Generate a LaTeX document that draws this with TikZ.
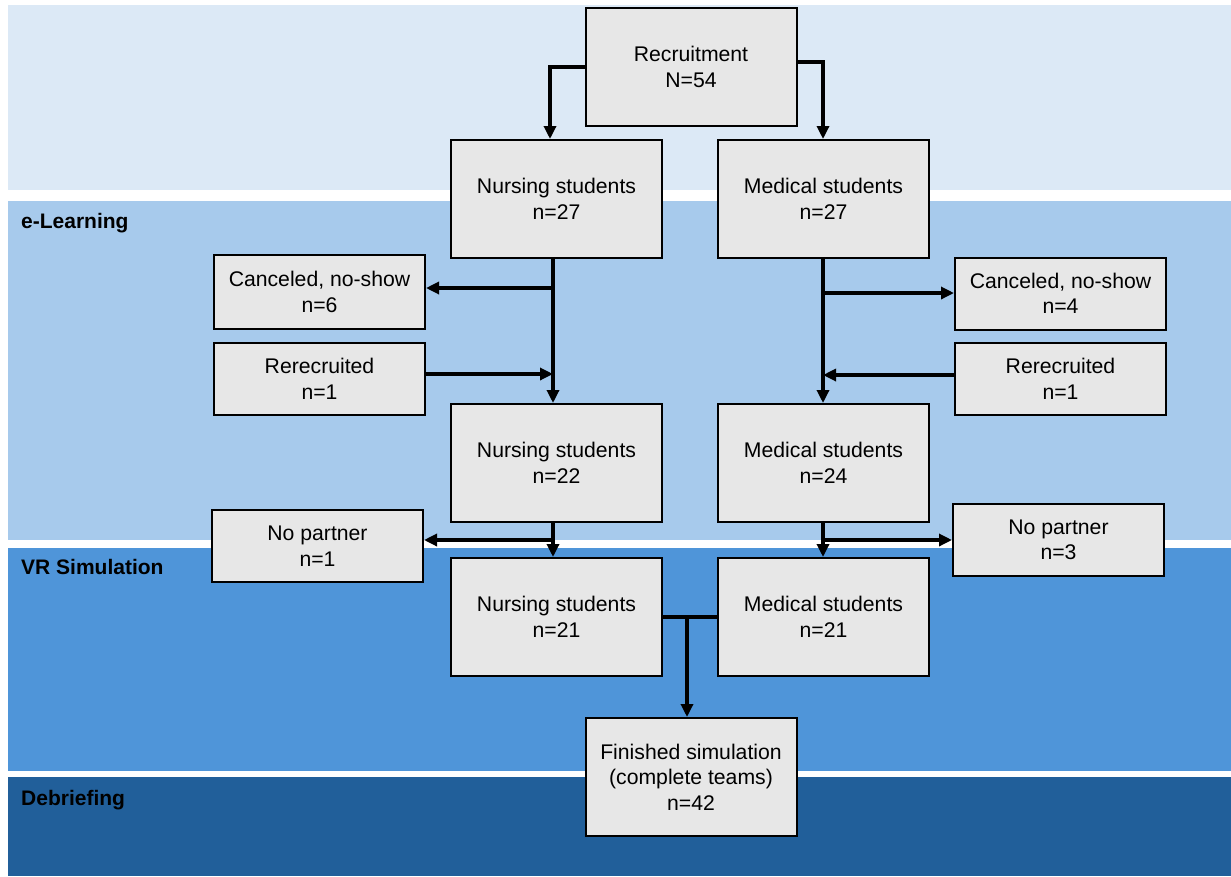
\documentclass[tikz,border=0pt]{standalone}
\usepackage{fontspec}
\setmainfont{Liberation Sans}
\usetikzlibrary{arrows.meta}
\definecolor{bandA}{HTML}{DCE9F6}
\definecolor{bandB}{HTML}{A7CAEC}
\definecolor{bandC}{HTML}{4F95D9}
\definecolor{bandD}{HTML}{215F9A}
\definecolor{boxfill}{HTML}{E7E7E7}
\tikzset{
  x=1pt, y=-1pt,
  stepbox/.style={draw=black, line width=2pt, fill=boxfill, minimum width=211pt, align=center,
    font=\fontsize{21.2}{25.5}\selectfont, inner sep=0pt},
  bigbox/.style={stepbox, minimum height=118pt},
  smallbox/.style={stepbox, minimum height=72pt},
  bandlabel/.style={anchor=north west, font=\fontsize{21}{24}\selectfont\bfseries, inner sep=0pt},
  conn/.style={line width=3.2pt, draw=black},
  arr/.style={conn, -{Triangle[width=12pt,length=13pt]}},
}
\begin{document}
\begin{tikzpicture}
\useasboundingbox (0,0) rectangle (1231,876);
\fill[white] (0,0) rectangle (1231,876);
% bands
\fill[bandA] (8,5) rectangle (1231,190);
\fill[bandB] (8,201) rectangle (1231,540);
\fill[bandC] (8,548) rectangle (1231,771);
\fill[bandD] (8,777) rectangle (1231,876);
\node[bandlabel] (l1) at (21,213) {e-Learning};
\node[bandlabel] (l2) at (21,559) {VR Simulation};
\node[bandlabel] (l3) at (21,790) {Debriefing};
% boxes
\node[bigbox] (rec) at (691,67) {Recruitment\\N=54};
\node[bigbox] (n27) at (556.5,199) {Nursing students\\n=27};
\node[bigbox] (m27) at (823.5,199) {Medical students\\n=27};
\node[smallbox, minimum height=74pt] (cl) at (319.5,292) {Canceled, no-show\\n=6};
\node[smallbox] (rl) at (319.5,379) {Rerecruited\\n=1};
\node[smallbox] (cr) at (1060.5,293.5) {Canceled, no-show\\n=4};
\node[smallbox] (rr) at (1060.5,379) {Rerecruited\\n=1};
\node[bigbox] (n22) at (556.5,463) {Nursing students\\n=22};
\node[bigbox] (m24) at (823.5,463) {Medical students\\n=24};
\node[smallbox] (pl) at (317.5,546) {No partner\\n=1};
\node[smallbox] (pr) at (1058.5,540) {No partner\\n=3};
\node[bigbox] (n21) at (556.5,617) {Nursing students\\n=21};
\node[bigbox] (m21) at (823.5,617) {Medical students\\n=21};
\node[bigbox] (fin) at (691,777) {Finished simulation\\(complete teams)\\n=42};
% junction coordinates
\coordinate (jl) at (550,67);
\coordinate (jr) at (823,62);
\coordinate (ja) at (553,288);
\coordinate (jb) at (553,374);
\coordinate (jc) at (823,293);
\coordinate (jd) at (823,375);
\coordinate (je) at (553,540);
\coordinate (jf) at (823,540);
\coordinate (jg) at (687,617);
% connectors
\draw[arr] (rec.west |- jl) -- (jl) -- (jl |- n27.north);
\draw[arr] (rec.east |- jr) -- (jr) -- (jr |- m27.north);
\draw[arr] (ja |- n27.south) -- (ja |- n22.north);
\draw[arr] (ja) -- (cl.east |- ja);
\draw[arr] (rl.east |- jb) -- (jb);
\draw[arr] (jc |- m27.south) -- (jc |- m24.north);
\draw[arr] (jc) -- (cr.west |- jc);
\draw[arr] (rr.west |- jd) -- (jd);
\draw[arr] (je |- n22.south) -- (je |- n21.north);
\draw[arr] (je) -- (pl.east |- je);
\draw[arr] (jf |- m24.south) -- (jf |- m21.north);
\draw[arr] (jf) -- (pr.west |- jf);
\draw[conn] (n21.east) -- (m21.west);
\draw[arr] (jg) -- (jg |- fin.north);
\end{tikzpicture}
\end{document}
